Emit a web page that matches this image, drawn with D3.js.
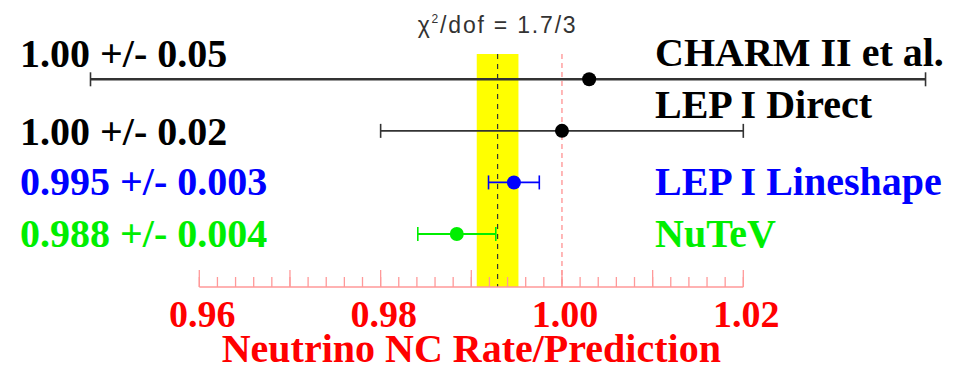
<!DOCTYPE html>
<html>
<head>
<meta charset="utf-8">
<script src="https://cdn.jsdelivr.net/npm/d3@7"></script>
<style>
  html, body { margin: 0; padding: 0; background: #fff; }
  svg { display: block; }
</style>
</head>
<body>
<div id="chart"></div>
<script>
// Measurements of the neutrino neutral-current rate relative to prediction
const experiments = ["CHARM II et al.", "LEP I Direct", "LEP I Lineshape", "NuTeV"];
const ratios = [1.003, 1.000, 0.9947, 0.9884];
const errors = [0.055, 0.020, 0.0028, 0.0043];
const resultLabels = ["1.00 +/- 0.05", "1.00 +/- 0.02", "0.995 +/- 0.003", "0.988 +/- 0.004"];
const seriesColors = ["#000000", "#000000", "#0000ff", "#00ee00"];

// Combined average band and the Standard Model expectation
const average = 0.9929;
const averageErr = 0.0023;
const expectation = 1.00;
const chiSquare = 1.7;
const dof = 3;

// Visible frame of the plot (error bars are clipped to it)
const frameRange = [0.948, 1.0401];

// Axis
const axisDomain = [0.96, 1.02];
const majorTicks = [0.96, 0.97, 0.98, 0.99, 1.00, 1.01, 1.02];
const tickLabels = ["0.96", "0.98", "1.00", "1.02"];
const tickLabelValues = [0.96, 0.98, 1.00, 1.02];
const axisTitle = "Neutrino NC Rate/Prediction";

const W = 973, H = 370;
const svg = d3.select("#chart").append("svg")
  .attr("width", W).attr("height", H);

const x = d3.scaleLinear().domain(axisDomain).range([199.3, 743.3]);
const y = d3.scalePoint().domain(d3.range(experiments.length)).range([79.3, 234]);

const serif = "'Liberation Serif', 'Times New Roman', serif";
const vTop = 54, vBottom = 287;

// Average band
svg.append("rect")
  .attr("x", x(average - averageErr))
  .attr("y", vTop)
  .attr("width", x(average + averageErr) - x(average - averageErr))
  .attr("height", vBottom - vTop)
  .attr("fill", "#ffff00");

// Average (dashed black) and expectation (dashed red)
svg.append("line")
  .attr("x1", x(average)).attr("x2", x(average))
  .attr("y1", vTop).attr("y2", vBottom)
  .attr("stroke", "#333").attr("stroke-width", 1.2)
  .attr("stroke-dasharray", "5,5");
svg.append("line")
  .attr("x1", x(expectation)).attr("x2", x(expectation))
  .attr("y1", vTop).attr("y2", vBottom)
  .attr("stroke", "#ff8888").attr("stroke-width", 1.2)
  .attr("stroke-dasharray", "5,4");

// Bottom axis with ticks pointing up
const axisG = svg.append("g").attr("transform", `translate(0,${vBottom})`);
const minorTicks = d3.range(0, 31).map(i => axisDomain[0] + i * 0.002);
axisG.append("line")
  .attr("x1", x(axisDomain[0])).attr("x2", x(axisDomain[1]))
  .attr("stroke", "#ff9999").attr("stroke-width", 1.3);
axisG.selectAll("line.minor").data(minorTicks).join("line")
  .attr("class", "minor")
  .attr("x1", d => x(d)).attr("x2", d => x(d))
  .attr("y1", 0).attr("y2", -10)
  .attr("stroke", "#ff9999").attr("stroke-width", 1.3);
axisG.selectAll("line.major").data(majorTicks).join("line")
  .attr("class", "major")
  .attr("x1", d => x(d)).attr("x2", d => x(d))
  .attr("y1", 0).attr("y2", -17)
  .attr("stroke", "#ff9999").attr("stroke-width", 1.3);

svg.selectAll("text.tick").data(tickLabelValues).join("text")
  .attr("class", "tick")
  .attr("x", d => x(d) + 3).attr("y", 327)
  .attr("text-anchor", "middle")
  .attr("font-family", serif).attr("font-weight", "bold")
  .attr("font-size", 38).attr("fill", "#ff0000")
  .text((d, i) => tickLabels[i]);

svg.append("text")
  .attr("x", (x(axisDomain[0]) + x(axisDomain[1])) / 2).attr("y", 362)
  .attr("text-anchor", "middle")
  .attr("font-family", serif).attr("font-weight", "bold")
  .attr("font-size", 40).attr("fill", "#ff0000")
  .text(axisTitle);

// Chi-square note above the band
const chi = svg.append("text")
  .attr("x", x(average)).attr("y", 33)
  .attr("text-anchor", "middle")
  .attr("font-family", "'Liberation Sans', Arial, sans-serif")
  .attr("font-size", 23).attr("letter-spacing", 1.8)
  .attr("fill", "#333");
chi.append("tspan").text("χ");
chi.append("tspan").attr("font-size", 12).attr("dy", -10).text("2");
chi.append("tspan").attr("dy", 10).text(`/dof = ${chiSquare}/${dof}`);

// Error bars and points
const clampX = v => x(Math.max(frameRange[0], Math.min(frameRange[1], v)));
const rowsG = svg.selectAll("g.row").data(experiments).join("g").attr("class", "row");
const barColor = i => (seriesColors[i] === "#000000" ? "#333" : seriesColors[i]);

rowsG.append("line")
  .attr("x1", (d, i) => clampX(ratios[i] - errors[i]))
  .attr("x2", (d, i) => clampX(ratios[i] + errors[i]))
  .attr("y1", (d, i) => y(i)).attr("y2", (d, i) => y(i))
  .attr("stroke", (d, i) => barColor(i))
  .attr("stroke-width", (d, i) => i === 0 ? 2.6 : 1.8);
rowsG.append("line")
  .attr("x1", (d, i) => clampX(ratios[i] - errors[i]))
  .attr("x2", (d, i) => clampX(ratios[i] - errors[i]))
  .attr("y1", (d, i) => y(i) - 7).attr("y2", (d, i) => y(i) + 7)
  .attr("stroke", (d, i) => barColor(i)).attr("stroke-width", 1.6);
rowsG.append("line")
  .attr("x1", (d, i) => clampX(ratios[i] + errors[i]))
  .attr("x2", (d, i) => clampX(ratios[i] + errors[i]))
  .attr("y1", (d, i) => y(i) - 7).attr("y2", (d, i) => y(i) + 7)
  .attr("stroke", (d, i) => barColor(i)).attr("stroke-width", 1.6);
rowsG.append("circle")
  .attr("cx", (d, i) => x(ratios[i]))
  .attr("cy", (d, i) => y(i))
  .attr("r", 7)
  .attr("fill", (d, i) => seriesColors[i]);

// Result and experiment labels
const leftOffsets = [-12.6, 14, 13, 13];
const rightOffsets = [-13, -13, 13, 13];
rowsG.append("text")
  .attr("x", 20).attr("y", (d, i) => y(i) + leftOffsets[i])
  .attr("font-family", serif).attr("font-weight", "bold")
  .attr("font-size", 40)
  .attr("fill", (d, i) => seriesColors[i])
  .text((d, i) => resultLabels[i]);
rowsG.append("text")
  .attr("x", 655).attr("y", (d, i) => y(i) + rightOffsets[i])
  .attr("font-family", serif).attr("font-weight", "bold")
  .attr("font-size", 40)
  .attr("fill", (d, i) => seriesColors[i])
  .text(d => d);
</script>
</body>
</html>
